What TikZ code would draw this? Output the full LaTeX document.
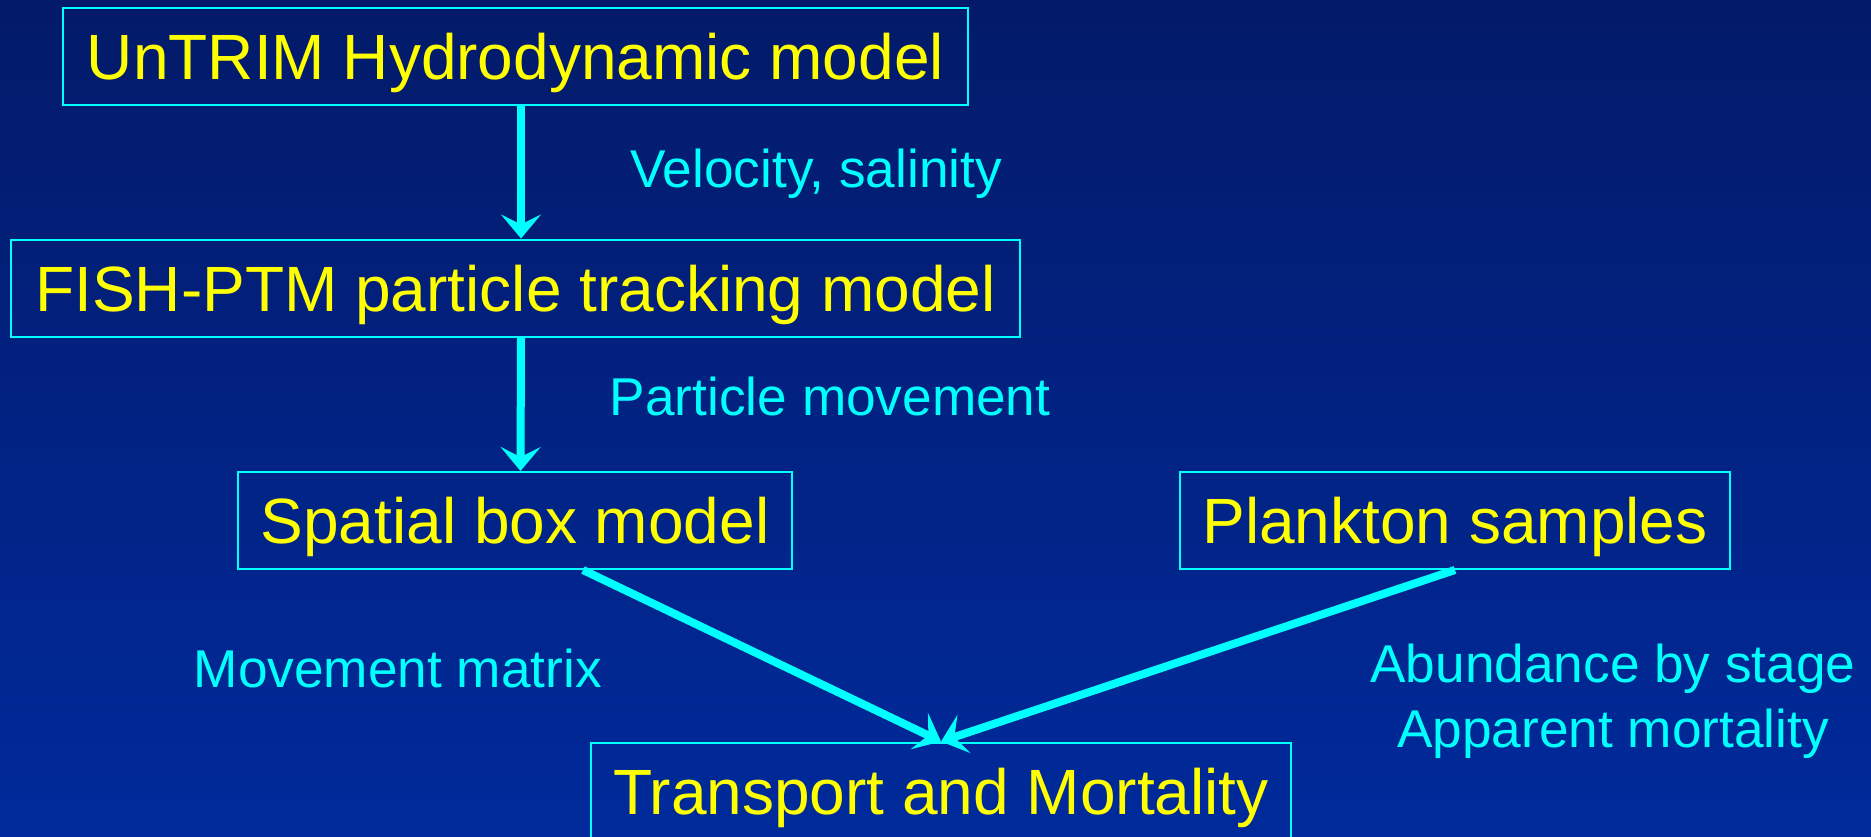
\documentclass[tikz,border=0pt]{standalone}
\usepackage{fontspec}
\setmainfont{Liberation Sans}
\usepackage{xcolor}
\usepackage{tikz}
\usetikzlibrary{positioning, arrows.meta, calc}
\definecolor{navytop}{RGB}{3,26,105}
\definecolor{navybottom}{RGB}{0,42,155}
\definecolor{flowcyan}{RGB}{0,255,255}
\definecolor{boxyellow}{RGB}{255,255,0}
\tikzset{modelflow/.style={
    model/.style={rectangle, draw=flowcyan, line width=1pt, inner sep=0pt, minimum height=48.5pt, text=boxyellow, font=\fontsize{32}{38}\selectfont, text height=23pt, text depth=0pt},
    note/.style={inner sep=0pt, text=flowcyan, font=\fontsize{26.6}{32.5}\selectfont},
    flow/.style={line width=4pt, flowcyan, -{Stealth[length=12pt, width=20pt, inset=5pt]}},
}}

\begin{document}
\begin{tikzpicture}[modelflow, x=0.5pt, y=-0.5pt]
    \useasboundingbox[top color=navytop, bottom color=navybottom] (0,0) rectangle (1871,836);
    \clip (0,0) rectangle (1871,836);
    % models
    \node[model, minimum width=452.5pt] (untrim) at (515.5,56) {UnTRIM Hydrodynamic model};
    \node[model, minimum width=504.5pt] (fish) at (515.5,288) {FISH-PTM particle tracking model};
    \node[model, minimum width=277pt] (spatial) at (515,520.5) {Spatial box model};
    \node[model, minimum width=275pt] (plankton) at (1455,520.5) {Plankton samples};
    \node[model, minimum width=350pt] (transport) at (941,791) {Transport and Mortality};
    % what is passed on
    \node[note, anchor=base west] (velocity) at (630,187) {Velocity, salinity};
    \node[note, anchor=base west] (particle) at (609.5,415) {Particle movement};
    \node[note, anchor=base west] (matrix) at (193.5,687) {Movement matrix};
    \node[note, anchor=base, align=center] (abundance) at (1613,747) {Abundance by stage\\Apparent mortality};
    % flows
    \draw[flow] ([xshift=2.75pt]untrim.south) -- ([xshift=2.75pt]fish.north);
    \draw[flow] ([xshift=2.75pt]fish.south) -- ([xshift=2.75pt]spatial.north);
    \draw[flow] ([xshift=34pt]spatial.south) -- (transport.north);
    \draw[flow] (plankton.south) -- (transport.north);
\end{tikzpicture}
\end{document}
